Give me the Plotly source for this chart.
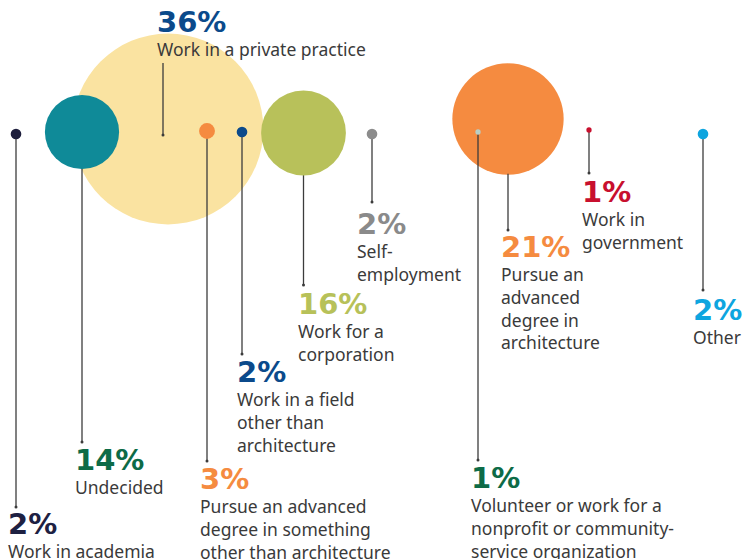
import plotly.graph_objects as go

# Survey outcome categories, left to right
categories = [
    "Work in academia",
    "Undecided",
    "Work in a private practice",
    "Pursue an advanced degree in something other than architecture",
    "Work in a field other than architecture",
    "Work for a corporation",
    "Self-employment",
    "Volunteer or work for a nonprofit or community-service organization",
    "Pursue an advanced degree in architecture",
    "Work in government",
    "Other",
]
percent = [2, 14, 36, 3, 2, 16, 2, 1, 21, 1, 2]

# Wrapped description text for each label
desc_lines = [
    ["Work in academia"],
    ["Undecided"],
    ["Work in a private practice"],
    ["Pursue an advanced", "degree in something", "other than architecture"],
    ["Work in a field", "other than", "architecture"],
    ["Work for a", "corporation"],
    ["Self-", "employment"],
    ["Volunteer or work for a", "nonprofit or community-", "service organization"],
    ["Pursue an", "advanced", "degree in", "architecture"],
    ["Work in", "government"],
    ["Other"],
]

# Layout (pixel space): bubble centres, leader lines, label anchors
bubble_x = [16, 82, 168, 207, 242, 303.5, 372, 478, 508, 589, 703]
bubble_y = [134, 132, 129, 131, 132, 133, 134, 132, 119, 130, 134]
line_x = [16, 82, 163, 207, 242, 303.5, 372, 478, 508, 589, 703]
line_end_y = [507, 442, 63, 461, 354, 285, 202, 460, 230, 173, 290]
label_x = [8, 75, 157, 200, 237, 298, 357, 471, 501, 582, 693]
pct_y = [524, 460, 22, 479, 372, 304, 224, 478, 247, 192, 310]
DESC_TOP = 13.5   # top of the description block below the percentage centre

# Styles
bubble_color = ["#1e1f3d", "#0f8a98", "#fae3a1", "#f58b40", "#0b4a8b", "#b8c15a",
                "#8c8c8c", "#b8cfc6", "#f58b40", "#c8102e", "#0ea5df"]
pct_color = ["#1e2142", "#0d6b47", "#0b4a8b", "#f58b40", "#0b4a8b", "#b7c159",
             "#8a8a8a", "#0d6b47", "#f58b40", "#c8102e", "#0ea5df"]
PX_PER_PCT = 5.3  # bubble diameter per percentage point
LINE_COLOR = "#3c3c3c"
TEXT_COLOR = "#3a3a3a"

fig = go.Figure()

radius = [p * PX_PER_PCT / 2 for p in percent]
big = [i for i, p in enumerate(percent) if p >= 20]
rest = [i for i in range(len(percent)) if i not in big]

# largest bubbles sit underneath everything
fig.add_trace(go.Scatter(
    x=[bubble_x[i] for i in big], y=[bubble_y[i] for i in big], mode="markers",
    marker=dict(size=[percent[i] * PX_PER_PCT for i in big],
                color=[bubble_color[i] for i in big], line=dict(width=0), opacity=1),
    hoverinfo="skip", showlegend=False))

# leader lines with a small dot at their lower end
lx, ly, dx, dy = [], [], [], []
for i in range(len(percent)):
    if line_end_y[i] < bubble_y[i]:
        y0, y1 = line_end_y[i], bubble_y[i] + 6
        dot = bubble_y[i] + 6
    else:
        y0, y1 = bubble_y[i] + radius[i] - 1, line_end_y[i]
        dot = line_end_y[i]
    lx += [line_x[i], line_x[i], None]
    ly += [y0, y1, None]
    dx.append(line_x[i])
    dy.append(dot)
fig.add_trace(go.Scatter(x=lx, y=ly, mode="lines", line=dict(color=LINE_COLOR, width=1.3),
                         hoverinfo="skip", showlegend=False))
fig.add_trace(go.Scatter(x=dx, y=dy, mode="markers",
                         marker=dict(size=3, color=LINE_COLOR, line=dict(width=0)),
                         hoverinfo="skip", showlegend=False))

fig.add_trace(go.Scatter(
    x=[bubble_x[i] for i in rest], y=[bubble_y[i] for i in rest], mode="markers",
    marker=dict(size=[percent[i] * PX_PER_PCT for i in rest],
                color=[bubble_color[i] for i in rest], line=dict(width=0), opacity=1),
    hoverinfo="skip", showlegend=False))

for i, p in enumerate(percent):
    fig.add_annotation(
        x=label_x[i], y=pct_y[i], text=f"{p}%", showarrow=False,
        xanchor="left", yanchor="middle", xshift=-2,
        font=dict(family="DejaVu Sans", size=29, color=pct_color[i], weight="bold"))
    fig.add_annotation(
        x=label_x[i], y=pct_y[i] + DESC_TOP, text="<br>".join(desc_lines[i]),
        showarrow=False, xanchor="left", yanchor="top", align="left", xshift=-1,
        borderpad=0, font=dict(family="Noto Sans", size=17.5, color=TEXT_COLOR))

fig.update_xaxes(range=[0, 750], visible=False, fixedrange=True)
fig.update_yaxes(range=[559, 0], visible=False, fixedrange=True)
fig.update_layout(width=750, height=559, margin=dict(l=0, r=0, t=0, b=0),
                  paper_bgcolor="white", plot_bgcolor="white")

fig.write_html("out.html")
